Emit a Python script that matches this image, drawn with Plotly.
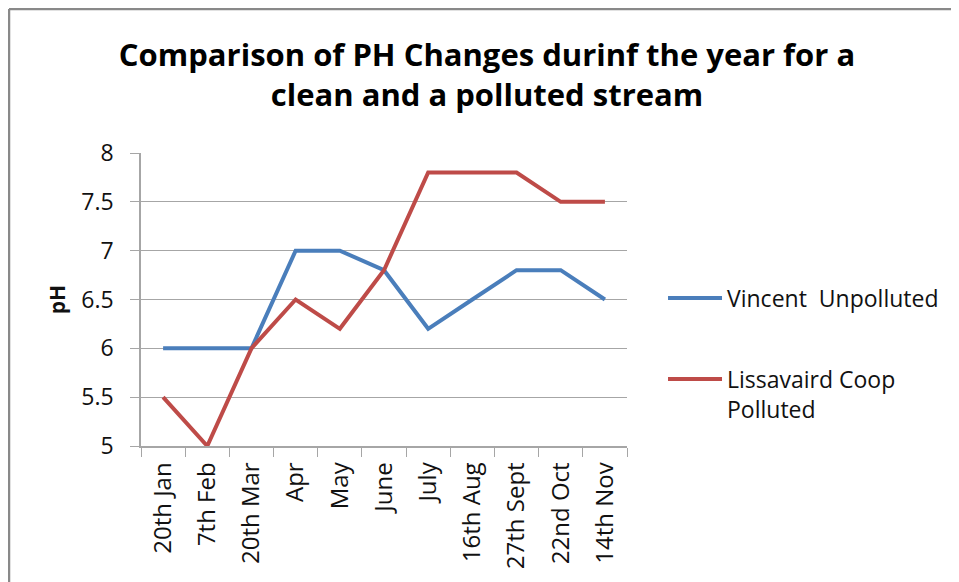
import plotly.graph_objects as go

# Sampling dates (category axis)
dates = ["20th Jan", "7th Feb", "20th Mar", "Apr", "May", "June",
         "July", "16th Aug", "27th Sept", "22nd Oct", "14th Nov"]

# pH readings
vincent = [6.0, 6.0, 6.0, 7.0, 7.0, 6.8, 6.2, 6.5, 6.8, 6.8, 6.5]
lissavaird = [5.5, 5.0, 6.0, 6.5, 6.2, 6.8, 7.8, 7.8, 7.8, 7.5, 7.5]

series_names = ["Vincent\u00a0\u00a0Unpolluted", "Lissavaird Coop<br>Polluted"]
series_colors = ["#4A7EBB", "#BE4B48"]

FONT = "Open Sans"

fig = go.Figure()

for name, vals, col in zip(series_names, [vincent, lissavaird], series_colors):
    fig.add_trace(go.Scatter(
        x=dates, y=vals, mode="lines", name=name,
        line=dict(color=col, width=4), showlegend=False,
    ))

# chart frame: only the left and top edges are visible in the picture
frame = dict(color="#898989", width=2.5)
shapes = [
    dict(type="line", xref="paper", yref="paper",
         x0=-0.2716, x1=-0.2716, y0=-1.0, y1=1.4915, line=frame),
    dict(type="line", xref="paper", yref="paper",
         x0=-0.2716, x1=2.0, y0=1.4915, y1=1.4915, line=frame),
]

# Excel style legend, drawn by hand (longer line keys than plotly's)
legend_rows = [0.5051, 0.2287]
legend_text_y = [0.5051, 0.1758]
annotations = []
for name, col, ly, ty in zip(series_names, series_colors, legend_rows, legend_text_y):
    shapes.append(dict(
        type="line", xref="paper", yref="paper",
        x0=1.0844, x1=1.1955, y0=ly, y1=ly,
        line=dict(color=col, width=4),
    ))
    annotations.append(dict(
        text=name, xref="paper", yref="paper", x=1.2058, y=ty,
        xanchor="left", yanchor="middle", align="left", showarrow=False,
        font=dict(family=FONT, size=23, color="#111111"), xshift=-2,
    ))

fig.update_layout(
    width=951, height=574,
    margin=dict(l=133, r=332, t=145, b=136),
    paper_bgcolor="white", plot_bgcolor="white",
    font=dict(family=FONT, size=23, color="#111111"),
    title=dict(
        text="<b>Comparison of PH Changes durinf the year for a<br>clean and a polluted stream</b>",
        x=0.5037, xref="container", xanchor="center",
        y=0.899, yref="container", yanchor="middle",
        font=dict(family=FONT, size=31, color="black"),
    ),
    showlegend=False,
    shapes=shapes,
    annotations=annotations,
)

fig.update_xaxes(
    type="category", showgrid=False, showline=True, linecolor="#A6A6A6", linewidth=1.5,
    ticks="outside", tickson="boundaries", ticklen=9, tickcolor="#A6A6A6",
    tickangle=-90, tickfont=dict(size=24), ticklabelstandoff=5, range=[-0.5, 10.5],
    automargin=False,
)
fig.update_yaxes(
    range=[5, 8], dtick=0.5, showgrid=True, gridcolor="#A6A6A6", gridwidth=1.2,
    showline=True, linecolor="#A6A6A6", linewidth=1.5,
    ticks="outside", ticklen=9, tickcolor="#A6A6A6",
    tickfont=dict(size=23), ticklabelstandoff=12, zeroline=False,
    title=dict(text="<b>pH</b>", font=dict(size=21), standoff=10),
    automargin=False,
)

fig.write_html("out.html")
